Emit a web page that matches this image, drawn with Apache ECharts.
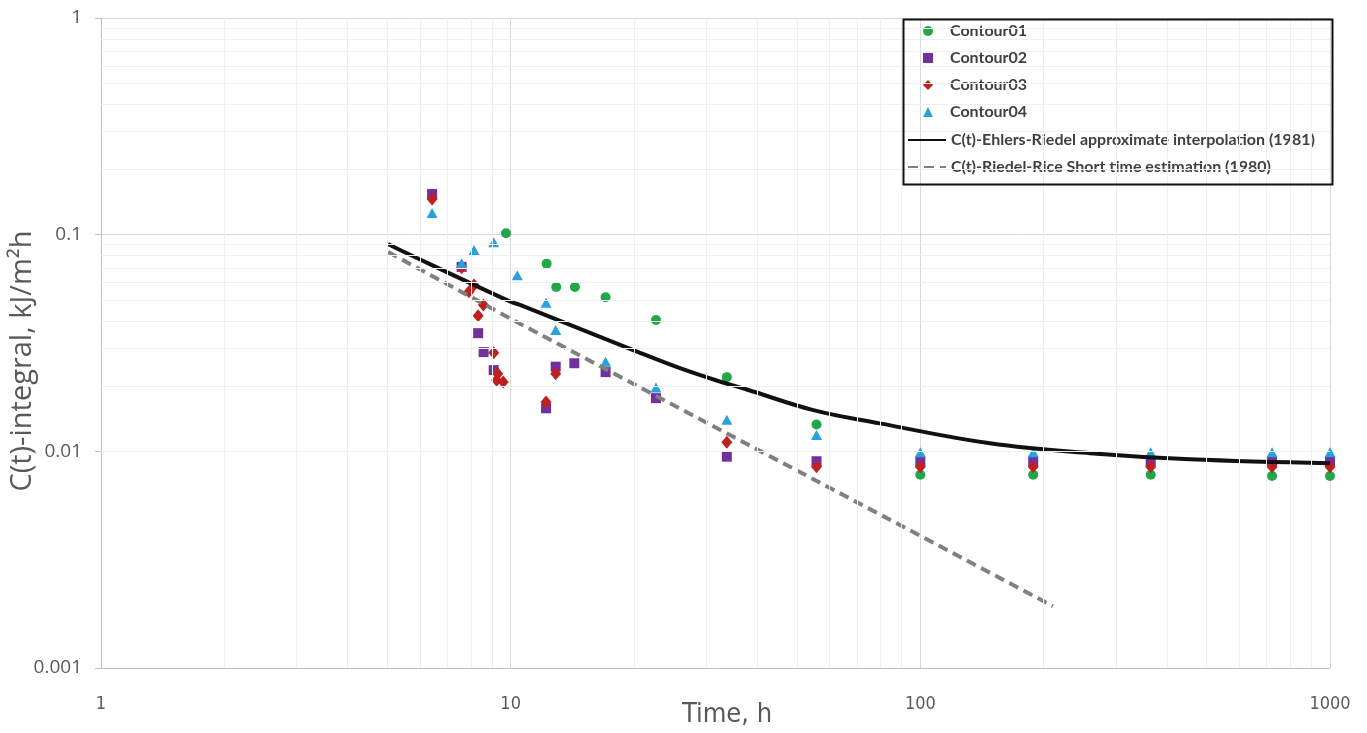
<!DOCTYPE html>
<html>
<head>
<meta charset="utf-8">
<script src="https://cdn.jsdelivr.net/npm/echarts@6/dist/echarts.min.js"></script>
<style>html,body{margin:0;padding:0;background:#fff;overflow:hidden}#c{width:1367px;height:733px}</style>
</head>
<body>
<div id="c"></div>
<script>
// ---- data (time h, C(t) kJ/m2h) ----
const contour01 = [[9.74,0.1015],[12.24,0.0735],[12.92,0.0573],[14.35,0.0573],[17.05,0.0514],[22.63,0.0404],[33.7,0.022],[55.8,0.0133],[100,0.0078],[188.6,0.0078],[365,0.0078],[722,0.0077],[1000,0.0077]];
const contour02 = [[6.43,0.154],[7.59,0.071],[8.33,0.0351],[8.59,0.0287],[9.09,0.0237],[12.2,0.0158],[12.88,0.0246],[14.3,0.0255],[17.05,0.0232],[22.63,0.0176],[33.7,0.00945],[55.8,0.009],[100,0.009],[188.6,0.009],[365,0.009],[722,0.009],[1000,0.009]];
const contour03 = [[6.43,0.146],[7.59,0.0704],[7.91,0.0545],[8.14,0.0586],[8.33,0.0423],[8.58,0.0474],[9.09,0.0285],[9.24,0.0213],[9.30,0.0228],[9.59,0.0209],[12.2,0.0169],[12.88,0.0228],[33.7,0.011],[55.8,0.0085],[100,0.0085],[188.6,0.0085],[365,0.0085],[722,0.0085],[1000,0.0085]];
const contour04 = [[6.43,0.126],[7.59,0.0738],[8.14,0.085],[9.09,0.0922],[10.38,0.0649],[12.2,0.0485],[12.88,0.0363],[17.05,0.0259],[22.63,0.0197],[33.7,0.014],[55.8,0.0119],[100,0.0099],[188.6,0.0099],[365,0.0099],[722,0.0099],[1000,0.0099]];
const ehlersRiedel = [[5.02,0.0906],[5.37,0.085],[10,0.049],[10.54,0.0474],[20.7,0.0285],[25.9,0.0242],[32.4,0.021],[37.7,0.0193],[54.8,0.0155],[79.7,0.01346],[147.9,0.01089],[259.4,0.0098],[455,0.00919],[1000,0.00881]];
const riedelRice = [[5.02,0.0832],[10.54,0.0388],[210.7,0.00193]];
const seriesNames = ['Contour01','Contour02','Contour03','Contour04','C(t)-Ehlers-Riedel approximate interpolation (1981)','C(t)-Riedel-Rice Short time estimation (1980)'];
const xTickLabels = ['1','10','100','1000'];
const yTickLabels = ['0.001','0.01','0.1','1'];
const xMinorGrid = [2,3,4,5,6,7,8,9,20,30,40,50,60,70,80,90,200,300,400,500,600,700,800,900];
const yMinorGrid = [0.002,0.003,0.004,0.005,0.006,0.007,0.008,0.009,0.02,0.03,0.04,0.05,0.06,0.07,0.08,0.09,0.2,0.3,0.4,0.5,0.6,0.7,0.8,0.9];

const chart = echarts.init(document.getElementById('c'), null, {renderer:'canvas', width:1367, height:733});
const minorLines = xMinorGrid.map(v => ({xAxis: v})).concat(yMinorGrid.map(v => ({yAxis: v})));
const narrow = "'Liberation Sans Narrow','DejaVu Sans Condensed',sans-serif";
const legendText = {fontFamily: "Lato,'Liberation Sans',sans-serif", fontWeight: 'bold', fontSize: 16, lineHeight: 18, color: '#404040'};

const option = {
  animation: false,
  backgroundColor: '#ffffff',
  grid: {left: 101, right: 37, top: 18, height: 650, containLabel: false, outerBoundsMode: 'none'},
  xAxis: {
    type: 'log', logBase: 10, min: 1, max: 1000,
    name: 'Time, h', nameLocation: 'middle', nameGap: 33, nameMoveOverlap: false,
    nameTextStyle: {fontFamily: narrow, fontSize: 27, color: '#595959', padding: [0,0,0,23]},
    axisLine: {show: true, lineStyle: {color: '#bfbfbf', width: 1}},
    axisTick: {show: false},
    axisLabel: {margin: 27, fontFamily: narrow, fontSize: 18, color: '#595959',
      formatter: v => xTickLabels[Math.round(Math.log10(v))]},
    splitLine: {show: true, lineStyle: {color: '#d9d9d9', width: 1}}
  },
  yAxis: {
    type: 'log', logBase: 10, min: 0.001, max: 1,
    name: 'C(t)-integral, kJ/m²h', nameLocation: 'middle', nameGap: 64, nameRotate: 90, nameMoveOverlap: false,
    nameTextStyle: {fontFamily: "'Open Sans','Liberation Sans',sans-serif", fontSize: 29, color: '#595959', padding: [0,36,0,0]},
    axisLine: {show: true, lineStyle: {color: '#bfbfbf', width: 1}},
    axisTick: {show: true, inside: false, length: 6, lineStyle: {color: '#bfbfbf'}},
    axisLabel: {margin: 19, fontFamily: "'Open Sans','Liberation Sans',sans-serif", fontSize: 19, color: '#595959',
      formatter: v => yTickLabels[Math.round(Math.log10(v)) + 3]},
    splitLine: {show: true, lineStyle: {color: '#d9d9d9', width: 1}}
  },
  legend: [{
    orient: 'vertical', left: 923, top: 22, padding: 0,
    itemWidth: 10, itemHeight: 10, itemGap: 9,
    data: seriesNames.slice(0, 4),
    textStyle: Object.assign({padding: [0,0,0,12]}, legendText),
    selectedMode: false
  }, {
    orient: 'vertical', left: 907, top: 131, padding: 0,
    itemWidth: 38, itemHeight: 10, itemGap: 9,
    data: seriesNames.slice(4).map(n => ({name: n, itemStyle: {opacity: 0}})),
    textStyle: legendText,
    selectedMode: false
  }],
  graphic: [{
    type: 'rect', left: 901, top: 17, z: 100, silent: true,
    shape: {width: 429, height: 165},
    style: {fill: 'none', stroke: '#111111', lineWidth: 2}
  }],
  series: [
    {name: '_minor', type: 'scatter', data: [[1,0.001]], symbolSize: 0, silent: true,
     markLine: {silent: true, symbol: ['none','none'], label: {show: false}, animation: false,
       lineStyle: {color: '#efefef', type: 'solid', width: 1}, data: minorLines}},
    {name: seriesNames[0], type: 'scatter', data: contour01, symbol: 'circle', symbolSize: 10, itemStyle: {color: '#22a64a', opacity: 1}},
    {name: seriesNames[1], type: 'scatter', data: contour02, symbol: 'rect', symbolSize: 10, itemStyle: {color: '#7030a0', opacity: 1}},
    {name: seriesNames[2], type: 'scatter', data: contour03, symbol: 'diamond', symbolSize: [11,13], itemStyle: {color: '#c0201e', opacity: 1}},
    {name: seriesNames[3], type: 'scatter', data: contour04, symbol: 'triangle', symbolSize: [11,10], itemStyle: {color: '#28a2dc', opacity: 1}},
    {name: seriesNames[4], type: 'line', data: ehlersRiedel, smooth: 0.4, symbol: 'none', showSymbol: false,
     lineStyle: {color: '#111111', width: 4}, itemStyle: {color: '#111111'}},
    {name: seriesNames[5], type: 'line', data: riedelRice, smooth: false, symbol: 'none', showSymbol: false,
     lineStyle: {color: '#808080', width: 4, type: [10, 6]}, itemStyle: {color: '#808080'}}
  ]
};
chart.setOption(option);
</script>
</body>
</html>
